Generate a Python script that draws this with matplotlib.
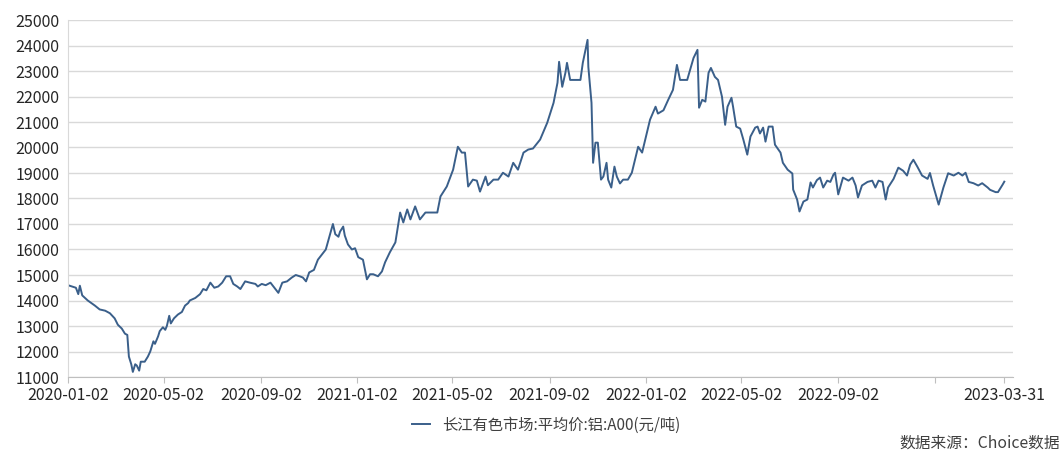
import numpy as np
import pandas as pd
import matplotlib
matplotlib.use('Agg')
import matplotlib.pyplot as plt
import matplotlib.dates as mdates

plt.rcParams['font.family'] = ['Noto Sans CJK SC', 'DejaVu Sans']

# days after 2020-01-02
day_offset = [0, 5, 10, 13, 15, 18, 25, 34, 40, 47, 53, 59, 63, 68, 72, 75, 77, 80, 82, 85,
              87, 90, 92, 97, 101, 104, 108, 110, 114, 116, 120, 123, 125, 128, 130, 134, 139, 144, 148, 152,
              154, 161, 167, 171, 175, 180, 185, 190, 195, 200, 205, 209, 214, 218, 224, 230, 237, 240, 245, 250,
              256, 261, 266, 271, 277, 283, 288, 293, 297, 301, 305, 311, 316, 321, 326, 331, 335, 338, 342, 344,
              348, 350, 354, 359, 363, 367, 373, 378, 382, 386, 392, 397, 401, 407, 414, 420, 424, 429, 433, 439,
              445, 452, 458, 467, 471, 479, 487, 493, 498, 502, 506, 512, 517, 521, 528, 531, 538, 544, 550, 557,
              563, 569, 576, 582, 588, 597, 606, 614, 619, 621, 625, 629, 631, 635, 639, 648, 651, 657, 658, 662,
              664, 667, 670, 674, 677, 681, 683, 687, 691, 694, 698, 702, 708, 713, 717, 721, 726, 730, 736, 743,
              746, 753, 759, 765, 770, 774, 783, 791, 796, 798, 802, 806, 810, 813, 818, 822, 827, 831, 834, 839,
              841, 845, 850, 854, 859, 863, 869, 872, 875, 879, 882, 886, 891, 894, 901, 904, 910, 916, 917, 922,
              925, 930, 935, 939, 942, 947, 951, 955, 960, 964, 968, 970, 974, 980, 987, 992, 996, 999, 1004, 1011,
              1017, 1021, 1025, 1030, 1034, 1037, 1044, 1050, 1056, 1061, 1065, 1069, 1074, 1080, 1087, 1090, 1094, 1101, 1107, 1113,
              1120, 1126, 1131, 1135, 1139, 1145, 1151, 1156, 1163, 1166, 1173, 1176, 1182, 1184]

price = [14600, 14550, 14500, 14250, 14580, 14200, 14000, 13800, 13650, 13600, 13500, 13300, 13050, 12900, 12700, 12650, 11800, 11500, 11200, 11500,
         11450, 11250, 11600, 11600, 11800, 12000, 12400, 12300, 12600, 12800, 12950, 12850, 13000, 13400, 13100, 13300, 13450, 13550, 13800, 13900,
         14000, 14100, 14250, 14450, 14400, 14700, 14500, 14550, 14700, 14950, 14950, 14650, 14550, 14450, 14750, 14700, 14650, 14550, 14650, 14600,
         14700, 14500, 14300, 14700, 14750, 14900, 15000, 14950, 14900, 14750, 15100, 15200, 15600, 15800, 16000, 16550, 17000, 16600, 16500, 16700,
         16900, 16550, 16200, 16000, 16050, 15700, 15600, 14830, 15030, 15030, 14950, 15140, 15500, 15890, 16280, 17450, 17060, 17570, 17180, 17690,
         17180, 17450, 17450, 17450, 18080, 18470, 19130, 20030, 19800, 19800, 18470, 18740, 18700, 18270, 18860, 18520, 18740, 18740, 19010, 18860,
         19400, 19130, 19800, 19920, 19960, 20310, 20970, 21750, 22540, 23360, 22380, 22930, 23320, 22650, 22650, 22650, 23320, 24220, 23160, 21750,
         19400, 20190, 20190, 18740, 18860, 19400, 18740, 18430, 19250, 18860, 18590, 18740, 18740, 19010, 19520, 20030, 19800, 20310, 21090, 21600,
         21330, 21460, 21870, 22260, 23240, 22650, 22650, 23510, 23830, 21560, 21870, 21800, 22930, 23120, 22770, 22650, 21990, 20890, 21600, 21950,
         21600, 20820, 20740, 20310, 19720, 20430, 20780, 20820, 20550, 20780, 20230, 20820, 20820, 20110, 19800, 19400, 19130, 18980, 18350, 17960,
         17490, 17880, 17960, 18630, 18430, 18720, 18820, 18430, 18700, 18650, 18940, 19010, 18160, 18820, 18700, 18820, 18510, 18040, 18510, 18650,
         18700, 18430, 18700, 18650, 17960, 18430, 18770, 19210, 19090, 18900, 19330, 19520, 19250, 18900, 18770, 19000, 18510, 17760, 18430, 18990,
         18900, 19010, 18900, 19010, 18650, 18600, 18510, 18600, 18430, 18340, 18250, 18250, 18550, 18660]

tick_dates = ['2020-01-02', '2020-05-02', '2020-09-02', '2021-01-02', '2021-05-02', '2021-09-02',
              '2022-01-02', '2022-05-02', '2022-09-02', '2023-01-02', '2023-03-31']
tick_labels = ['2020-01-02', '2020-05-02', '2020-09-02', '2021-01-02', '2021-05-02', '2021-09-02',
               '2022-01-02', '2022-05-02', '2022-09-02', '', '2023-03-31']

series_name = '长江有色市场:平均价:铝:A00(元/吨)'
source_text = '数据来源：Choice数据'

start = pd.Timestamp('2020-01-02')
dates = start + pd.to_timedelta(day_offset, unit='D')

fig = plt.figure(figsize=(10.62, 4.53), dpi=100)
ax = fig.add_axes([68/1062, 1-377/453, (1013-68)/1062, (377-20)/453])

line, = ax.plot(dates, price, color='#3a5f8a', lw=1.4, label=series_name)

ax.set_ylim(11000, 25000)
ax.set_yticks(np.arange(11000, 25001, 1000))
ax.set_xlim(start, start + pd.Timedelta(days=1195))
ax.set_xticks(pd.to_datetime(tick_dates))
ax.set_xticklabels(tick_labels)

ax.grid(axis='y', color='#d9d9d9', lw=1)
ax.set_axisbelow(True)
for s in ['top', 'right']:
    ax.spines[s].set_visible(False)
ax.spines['left'].set_color('#d9d9d9')
ax.spines['bottom'].set_color('#bfbfbf')
ax.tick_params(axis='x', colors='#bfbfbf', length=4, labelcolor='#262626', labelsize=11.5, pad=3)
ax.tick_params(axis='y', length=0, labelcolor='#262626', labelsize=11.5, pad=6)

fig.legend(handles=[line], loc='center', bbox_to_anchor=(546/1062, 1-425/453),
           frameon=False, fontsize=11, handlelength=1.2, labelcolor='#404040')
fig.text(1060/1062, 1-443/453, source_text, ha='right', va='center', fontsize=11.3, color='#404040')

fig.savefig('out.png', dpi=100)
